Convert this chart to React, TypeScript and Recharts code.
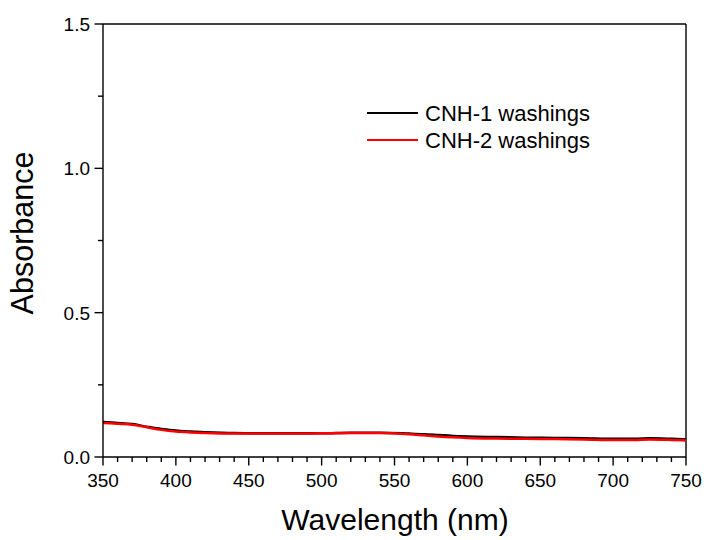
import React from "react";
import { LineChart, Line, XAxis, YAxis, ReferenceLine } from "recharts";

const wavelengths = [350, 360, 370, 380, 390, 400, 410, 420, 440, 460, 480, 500, 520, 540, 560, 570, 580, 590, 600, 620, 640, 660, 680, 700, 715, 725, 740, 750];
const cnh1 = [0.121, 0.118, 0.114, 0.105, 0.097, 0.092, 0.088, 0.086, 0.083, 0.082, 0.082, 0.082, 0.084, 0.084, 0.081, 0.079, 0.076, 0.073, 0.071, 0.069, 0.067, 0.066, 0.065, 0.063, 0.063, 0.065, 0.063, 0.061];
const cnh2 = [0.118, 0.115, 0.112, 0.103, 0.094, 0.088, 0.085, 0.083, 0.081, 0.081, 0.081, 0.082, 0.083, 0.083, 0.079, 0.075, 0.071, 0.068, 0.066, 0.064, 0.063, 0.062, 0.061, 0.059, 0.059, 0.061, 0.059, 0.057];
const seriesNames = ["CNH-1 washings", "CNH-2 washings"];
const seriesColors = ["#000000", "#ff0000"];
const xTicks = [350, 360, 370, 380, 390, 400, 410, 420, 430, 440, 450, 460, 470, 480, 490, 500, 510, 520, 530, 540, 550, 560, 570, 580, 590, 600, 610, 620, 630, 640, 650, 660, 670, 680, 690, 700, 710, 720, 730, 740, 750];
const yTicks = [0, 0.25, 0.5, 0.75, 1.0, 1.25, 1.5];
const xTitle = "Wavelength (nm)";
const yTitle = "Absorbance";

const data = wavelengths.map((w, i) => ({ w, a: cnh1[i], b: cnh2[i] }));

const FONT = "'Liberation Sans', Arial, sans-serif";

const XTick = (props: any) => {
  const { x, y, payload } = props;
  const v = payload.value;
  const major = v % 50 === 0;
  return (
    <g>
      <line x1={x} x2={x} y1={y} y2={y + (major ? 8.5 : 5)} stroke="#000" strokeWidth={1.4} />
      {major && (
        <text x={x} y={y + 30} textAnchor="middle" fontSize={19} fontFamily={FONT} fill="#000">
          {v}
        </text>
      )}
    </g>
  );
};

const YTick = (props: any) => {
  const { x, y, payload } = props;
  const v = payload.value;
  const major = Math.abs(v * 2 - Math.round(v * 2)) < 1e-6;
  return (
    <g>
      <line x1={x} x2={x - (major ? 8.5 : 5)} y1={y} y2={y} stroke="#000" strokeWidth={1.4} />
      {major && (
        <text x={x - 13} y={y + 7} textAnchor="end" fontSize={19} fontFamily={FONT} fill="#000">
          {v.toFixed(1)}
        </text>
      )}
    </g>
  );
};

const LegendBox = () => (
  <svg width={260} height={60} style={{ position: "absolute", left: 367, top: 100, overflow: "visible" }}>
    {seriesNames.map((n, i) => (
      <g key={n}>
        <line x1={0} x2={51} y1={13 + i * 27} y2={13 + i * 27} stroke={seriesColors[i]} strokeWidth={2.2} />
        <text x={58} y={13 + i * 27 + 8} fontSize={22} fontFamily={FONT} fill="#000">
          {n}
        </text>
      </g>
    ))}
  </svg>
);

export default function App() {
  return (
    <div style={{ position: "absolute", left: 0, top: 0, width: 707, height: 540, background: "#fff" }}>
      <LineChart width={707} height={540} data={data} margin={{ top: 24, right: 21, bottom: 0, left: 0 }}>
        <XAxis
          dataKey="w"
          type="number"
          domain={[350, 750]}
          ticks={xTicks}
          interval={0}
          height={83}
          tickSize={0}
          tickMargin={0}
          tickLine={false}
          axisLine={{ stroke: "#000", strokeWidth: 1.4 }}
          tick={<XTick />}
          label={() => (
            <text x={395} y={530} textAnchor="middle" fontSize={30} fontFamily={FONT} fill="#000">
              {xTitle}
            </text>
          )}
        />
        <YAxis
          type="number"
          domain={[0, 1.5]}
          ticks={yTicks}
          interval={0}
          width={103}
          tickSize={0}
          tickMargin={0}
          tickLine={false}
          axisLine={{ stroke: "#000", strokeWidth: 1.4 }}
          tick={<YTick />}
          label={() => (
            <text x={33} y={233} transform="rotate(-90, 33, 233)" textAnchor="middle" fontSize={30.5} fontFamily={FONT} fill="#000">
              {yTitle}
            </text>
          )}
        />
        <ReferenceLine y={1.5} stroke="#000" strokeWidth={1.4} />
        <ReferenceLine x={750} stroke="#000" strokeWidth={1.4} />
        <Line type="monotone" dataKey="a" name={seriesNames[0]} stroke={seriesColors[0]} strokeWidth={2.5} dot={false} isAnimationActive={false} />
        <Line type="monotone" dataKey="b" name={seriesNames[1]} stroke={seriesColors[1]} strokeWidth={2.5} dot={false} isAnimationActive={false} />
      </LineChart>
      <LegendBox />
    </div>
  );
}
